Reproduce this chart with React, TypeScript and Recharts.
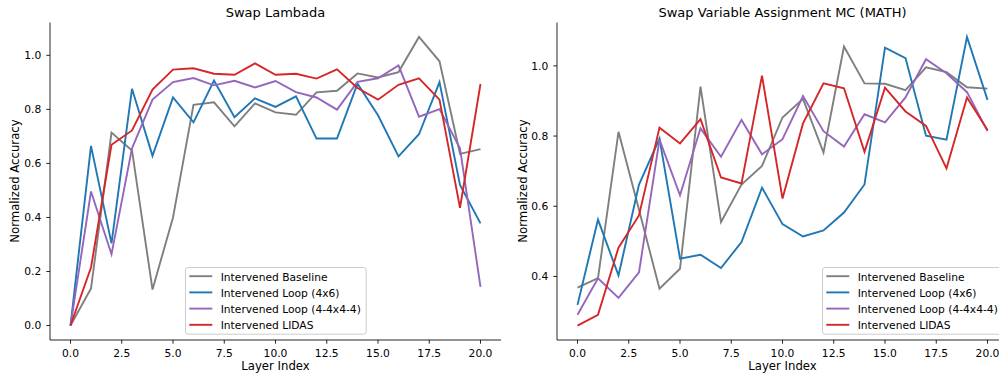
import React from 'react';
import { LineChart, Line, XAxis, YAxis, Legend } from 'recharts';

const layers = [0, 1, 2, 3, 4, 5, 6, 7, 8, 9, 10, 11, 12, 13, 14, 15, 16, 17, 18, 19, 20];
const xTicks = [0, 2.5, 5, 7.5, 10, 12.5, 15, 17.5, 20];
const yTicksLeft = [0, 0.2, 0.4, 0.6, 0.8, 1.0];
const yTicksRight = [0.4, 0.6, 0.8, 1.0];

const seriesKeys = ['baseline', 'loop4x6', 'loop444', 'lidas'];
const seriesNames = ['Intervened Baseline', 'Intervened Loop (4x6)', 'Intervened Loop (4-4x4-4)', 'Intervened LIDAS'];
const seriesColors = ['#7f7f7f', '#1f77b4', '#9467bd', '#d62728'];

const leftTitle = 'Swap Lambada';
const rightTitle = 'Swap Variable Assignment MC (MATH)';
const xLabel = 'Layer Index';
const yLabel = 'Normalized Accuracy';

const lambadaBaseline = [0, 0.137, 0.714, 0.648, 0.133, 0.40, 0.817, 0.826, 0.737, 0.822, 0.789, 0.780, 0.863, 0.869, 0.933, 0.918, 0.938, 1.068, 0.978, 0.635, 0.653];
const lambadaLoop4x6 = [0, 0.665, 0.304, 0.876, 0.628, 0.844, 0.752, 0.907, 0.771, 0.841, 0.809, 0.848, 0.692, 0.692, 0.895, 0.778, 0.626, 0.708, 0.901, 0.52, 0.378];
const lambadaLoop444 = [0, 0.496, 0.264, 0.656, 0.836, 0.901, 0.916, 0.889, 0.906, 0.881, 0.905, 0.864, 0.844, 0.799, 0.902, 0.915, 0.963, 0.773, 0.801, 0.656, 0.143];
const lambadaLidas = [0, 0.215, 0.669, 0.722, 0.873, 0.947, 0.952, 0.932, 0.928, 0.970, 0.928, 0.932, 0.914, 0.948, 0.879, 0.836, 0.891, 0.915, 0.836, 0.436, 0.894];

const mathBaseline = [0.368, 0.395, 0.812, 0.59, 0.365, 0.422, 0.941, 0.555, 0.662, 0.715, 0.853, 0.906, 0.753, 1.055, 0.950, 0.949, 0.931, 0.996, 0.982, 0.939, 0.935];
const mathLoop4x6 = [0.319, 0.562, 0.403, 0.662, 0.793, 0.451, 0.462, 0.424, 0.498, 0.653, 0.549, 0.514, 0.531, 0.582, 0.662, 1.052, 1.022, 0.801, 0.790, 1.082, 0.903];
const mathLoop444 = [0.291, 0.395, 0.339, 0.412, 0.790, 0.631, 0.822, 0.741, 0.846, 0.748, 0.791, 0.914, 0.814, 0.770, 0.862, 0.839, 0.910, 1.019, 0.979, 0.925, 0.814];
const mathLidas = [0.260, 0.291, 0.482, 0.574, 0.824, 0.779, 0.848, 0.682, 0.665, 0.972, 0.622, 0.836, 0.950, 0.936, 0.755, 0.938, 0.870, 0.829, 0.708, 0.910, 0.817];

const buildData = (a: number[], b: number[], c: number[], d: number[]) =>
  layers.map((l, i) => ({ layer: l, baseline: a[i], loop4x6: b[i], loop444: c[i], lidas: d[i] }));

const leftData = buildData(lambadaBaseline, lambadaLoop4x6, lambadaLoop444, lambadaLidas);
const rightData = buildData(mathBaseline, mathLoop4x6, mathLoop444, mathLidas);

const FONT = 'DejaVu Sans';
const TICK_FS = 10.7;
const LABEL_FS = 11.7;
const LINE_W = 1.9;

const LegendBox = () => (
  <svg width={183} height={69} style={{ display: 'block', overflow: 'visible' }}>
    <rect x={0.5} y={0.5} width={180.7} height={66.7} rx={2.5} fill="#fff" fillOpacity={0.8} stroke="#cccccc" strokeWidth={1} />
    {seriesNames.map((n, i) => {
      const cy = 9.2 + 16.2 * i;
      return (
        <g key={n}>
          <line x1={4.3} x2={27.3} y1={cy} y2={cy} stroke={seriesColors[i]} strokeWidth={LINE_W} />
          <text x={35.7} y={cy + 4.3} fontSize={TICK_FS} fontFamily={FONT} fill="#000">{n}</text>
        </g>
      );
    })}
  </svg>
);

type PanelProps = {
  data: any[];
  yDomain: [number, number];
  yTicks: number[];
  legendLeft: number;
};

const Panel = ({ data, yDomain, yTicks, legendLeft }: PanelProps) => (
  <LineChart
    width={510}
    height={373}
    data={data}
    margin={{ top: 22.5, right: 9, bottom: 0, left: 0 }}
    style={{ fontFamily: FONT }}
  >
    <XAxis
      dataKey="layer"
      type="number"
      domain={[-1, 21]}
      ticks={xTicks}
      interval={0}
      allowDataOverflow
      height={33}
      tickFormatter={(v: number) => v.toFixed(1)}
      tick={{ fontSize: TICK_FS, fill: '#000', fontFamily: FONT }}
      axisLine={{ stroke: '#000', strokeWidth: 0.85 }}
      tickLine={{ stroke: '#000', strokeWidth: 0.85 }}
      tickSize={3.7}
      tickMargin={5.5}
    />
    <YAxis
      type="number"
      domain={yDomain}
      ticks={yTicks}
      interval={0}
      allowDataOverflow
      width={50}
      tickFormatter={(v: number) => v.toFixed(1)}
      tick={{ fontSize: TICK_FS, fill: '#000', fontFamily: FONT }}
      axisLine={{ stroke: '#000', strokeWidth: 0.85 }}
      tickLine={{ stroke: '#000', strokeWidth: 0.85 }}
      tickSize={3.7}
      tickMargin={5}
    />
    {seriesKeys.map((k, i) => (
      <Line
        key={k}
        type="linear"
        dataKey={k}
        name={seriesNames[i]}
        stroke={seriesColors[i]}
        strokeWidth={LINE_W}
        dot={false}
        activeDot={false}
        isAnimationActive={false}
      />
    ))}
    <Legend
      layout="vertical"
      align="center"
      verticalAlign="middle"
      content={() => <LegendBox />}
      wrapperStyle={{ left: legendLeft, top: 267, width: 183, height: 69 }}
    />
  </LineChart>
);

export default function App() {
  return (
    <div
      style={{
        position: 'absolute',
        left: 0,
        top: 0,
        width: 999,
        height: 373,
        overflow: 'hidden',
        background: '#fff',
        fontFamily: FONT,
      }}
    >
      <div style={{ position: 'absolute', left: 0, top: 0 }}>
        <Panel data={leftData} yDomain={[-0.0535, 1.1215]} yTicks={yTicksLeft} legendLeft={185} />
      </div>
      <div style={{ position: 'absolute', left: 507, top: 0 }}>
        <Panel data={rightData} yDomain={[0.219, 1.1235]} yTicks={yTicksRight} legendLeft={315.3} />
      </div>
      <svg
        width={999}
        height={373}
        style={{ position: 'absolute', left: 0, top: 0, pointerEvents: 'none' }}
      >
        <text x={275.5} y={17.3} textAnchor="middle" fontSize={13} fontFamily={FONT} fill="#000">{leftTitle}</text>
        <text x={782.5} y={17.3} textAnchor="middle" fontSize={13} fontFamily={FONT} fill="#000">{rightTitle}</text>
        <text x={275.5} y={370} textAnchor="middle" fontSize={LABEL_FS} fontFamily={FONT} fill="#000">{xLabel}</text>
        <text x={782.5} y={370} textAnchor="middle" fontSize={LABEL_FS} fontFamily={FONT} fill="#000">{xLabel}</text>
        <text x={19.3} y={181} transform="rotate(-90 19.3 181)" textAnchor="middle" fontSize={LABEL_FS} fontFamily={FONT} fill="#000">{yLabel}</text>
        <text x={526.5} y={181} transform="rotate(-90 526.5 181)" textAnchor="middle" fontSize={LABEL_FS} fontFamily={FONT} fill="#000">{yLabel}</text>
      </svg>
    </div>
  );
}
